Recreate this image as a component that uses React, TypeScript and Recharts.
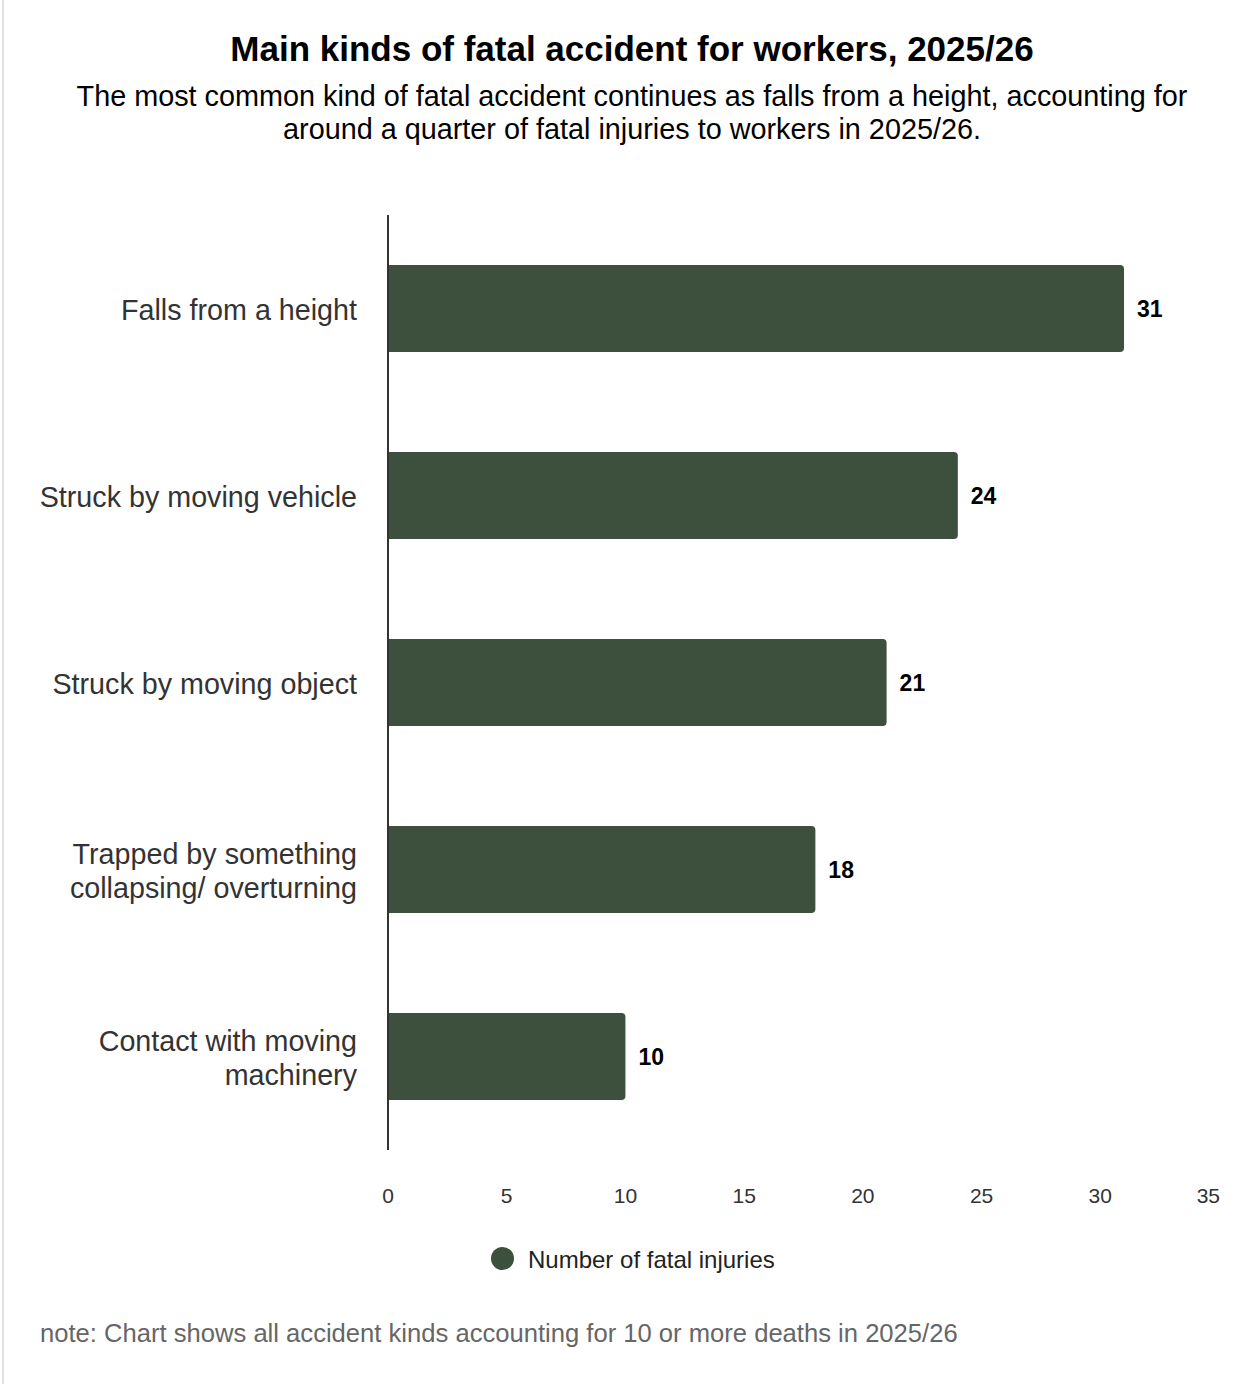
import React from "react";
import { Bar, BarChart, LabelList, XAxis, YAxis } from "recharts";

const categories = [
  "Falls from a height",
  "Struck by moving vehicle",
  "Struck by moving object",
  "Trapped by something collapsing/ overturning",
  "Contact with moving machinery",
];
const fatalInjuries = [31, 24, 21, 18, 10];
const xTicks = [0, 5, 10, 15, 20, 25, 30, 35];

const data = categories.map((name, i) => ({ name, value: fatalInjuries[i] }));

const FONT = '"Liberation Sans", Arial, Helvetica, sans-serif';
const BAR_COLOR = "#3d4f3d";

// simple word wrap by character count
function wrap(text: string, maxChars: number): string[] {
  const lines: string[] = [];
  let cur = "";
  text.split(" ").forEach((w) => {
    const next = cur ? cur + " " + w : w;
    if (next.length > maxChars && cur) {
      lines.push(cur);
      cur = w;
    } else {
      cur = next;
    }
  });
  if (cur) lines.push(cur);
  return lines;
}

function CategoryTick(props: any) {
  const { x, y, payload } = props;
  const lines = wrap(String(payload.value), 26);
  const lh = 34;
  const start = -((lines.length - 1) * lh) / 2 + 1;
  return (
    <text
      x={x - 31}
      y={y}
      textAnchor="end"
      fill="#333333"
      fontSize={28.7}
      fontFamily={FONT}
    >
      {lines.map((l, i) => (
        <tspan key={i} x={x - 31} y={y + start + i * lh} dominantBaseline="central">
          {l}
        </tspan>
      ))}
    </text>
  );
}

function ValueTick(props: any) {
  const { x, y, payload } = props;
  const isLast = payload.value === xTicks[xTicks.length - 1];
  return (
    <text
      x={isLast ? x + 1 : x}
      y={y + 45}
      textAnchor={isLast ? "end" : "middle"}
      dominantBaseline="central"
      fill="#333333"
      fontSize={21}
      fontFamily={FONT}
    >
      {payload.value}
    </text>
  );
}

export default function App() {
  return (
    <div
      style={{
        position: "absolute",
        left: 0,
        top: 0,
        width: 1252,
        height: 1384,
        background: "#ffffff",
        fontFamily: FONT,
        overflow: "hidden",
      }}
    >
      <div style={{ position: "absolute", left: 2, top: 0, width: 2, height: 1384, background: "#e2e2e2" }} />
      <div
        style={{
          position: "absolute",
          left: 6,
          width: 1252,
          top: 29,
          lineHeight: "40px",
          fontSize: 35,
          fontWeight: "bold",
          textAlign: "center",
          color: "#000",
        }}
      >
        Main kinds of fatal accident for workers, 2025/26
      </div>
      <div
        style={{
          position: "absolute",
          left: 6,
          width: 1252,
          top: 79.5,
          lineHeight: "33px",
          fontSize: 28.8,
          textAlign: "center",
          color: "#000",
        }}
      >
        The most common kind of fatal accident continues as falls from a height, accounting for
        <br />
        around a quarter of fatal injuries to workers in 2025/26.
      </div>

      <div style={{ position: "absolute", left: 0, top: 0 }}>
        <BarChart
          width={1252}
          height={1230}
          data={data}
          layout="vertical"
          margin={{ top: 215, right: 33, bottom: 20, left: 0 }}
        >
          <XAxis
            type="number"
            domain={[0, 35]}
            ticks={xTicks}
            height={60}
            axisLine={false}
            tickLine={false}
            tickSize={0}
            tickMargin={0}
            tick={<ValueTick />}
            interval={0}
          />
          <YAxis
            type="category"
            dataKey="name"
            width={388}
            axisLine={{ stroke: "#333333", strokeWidth: 2 }}
            tickLine={false}
            tickSize={0}
            tickMargin={0}
            tick={<CategoryTick />}
            interval={0}
          />
          <Bar
            dataKey="value"
            name="Number of fatal injuries"
            fill={BAR_COLOR}
            barSize={87}
            radius={[0, 4, 4, 0]}
            isAnimationActive={false}
          >
            <LabelList
              dataKey="value"
              position="right"
              offset={13}
              fill="#000000"
              fontSize={23}
              fontWeight="bold"
              fontFamily={FONT}
            />
          </Bar>
        </BarChart>
      </div>

      <div
        style={{
          position: "absolute",
          left: 491,
          top: 1247,
          width: 23,
          height: 23,
          borderRadius: "50%",
          background: BAR_COLOR,
        }}
      />
      <div
        style={{
          position: "absolute",
          left: 528,
          top: 1245,
          lineHeight: "30px",
          fontSize: 24,
          color: "#222222",
        }}
      >
        Number of fatal injuries
      </div>

      <div
        style={{
          position: "absolute",
          left: 40,
          top: 1318,
          lineHeight: "30px",
          fontSize: 25.6,
          color: "#666666",
        }}
      >
        note: Chart shows all accident kinds accounting for 10 or more deaths in 2025/26
      </div>
    </div>
  );
}
